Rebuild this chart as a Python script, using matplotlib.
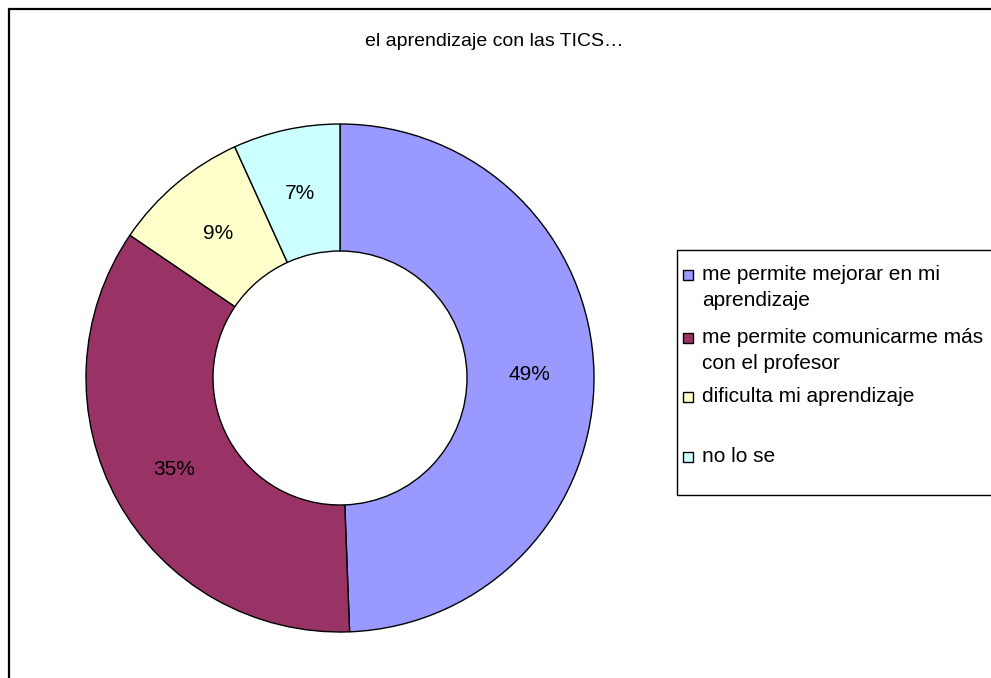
import matplotlib
matplotlib.use('Agg')
import matplotlib.pyplot as plt
from matplotlib.patches import Rectangle

# Datos del gráfico
categorias = ['me permite mejorar en mi\naprendizaje',
              'me permite comunicarme más\ncon el profesor',
              'dificulta mi aprendizaje',
              'no lo se']
valores = [49.4, 35.1, 8.7, 6.8]
colores = ['#9999FF', '#993366', '#FFFFCC', '#CCFFFF']
titulo = 'el aprendizaje con las TICS…'

W, H = 991, 678
plt.rcParams['font.family'] = ['Liberation Sans', 'DejaVu Sans']
fig = plt.figure(figsize=(W / 100, H / 100), dpi=100)


def fx(px):
    return px / W


def fy(py):
    return 1 - py / H


# Marco del área del gráfico (se corta por la derecha y por abajo)
fig.add_artist(Rectangle((fx(8.5), fy(700)), fx(1000), 700 / H - 8.5 / H,
                         transform=fig.transFigure, fill=False,
                         edgecolor='black', linewidth=1.6))

fig.text(fx(494), fy(42), titulo, ha='center', va='center', fontsize=14)

# Anillo
cx, cy, r = 340, 378, 254
ax = fig.add_axes([fx(cx - r), fy(cy + r), 2 * r / W, 2 * r / H])
wedges, textos, autotextos = ax.pie(
    valores, colors=colores, startangle=90, counterclock=False,
    autopct='%1.0f%%', pctdistance=0.745,
    wedgeprops=dict(width=0.5, edgecolor='black', linewidth=1.0),
    textprops=dict(fontsize=15, color='black'))
ax.set_xlim(-1, 1)
ax.set_ylim(-1, 1)
ax.set_aspect('equal')
ax.axis('off')

# Leyenda
fig.add_artist(Rectangle((fx(676.5), fy(495)), fx(400), (495 - 250) / H,
                         transform=fig.transFigure, facecolor='white',
                         edgecolor='black', linewidth=1.0))
bases = [280, 343, 402, 462]
for cat, color, base in zip(categorias, colores, bases):
    fig.add_artist(Rectangle((fx(683), fy(base)), fx(10), 10 / H,
                             transform=fig.transFigure, facecolor=color,
                             edgecolor='black', linewidth=1.0))
    for i, linea in enumerate(cat.split('\n')):
        fig.text(fx(702), fy(base + i * 26), linea, ha='left',
                 va='baseline', fontsize=15)

fig.savefig('out.png', dpi=100)
